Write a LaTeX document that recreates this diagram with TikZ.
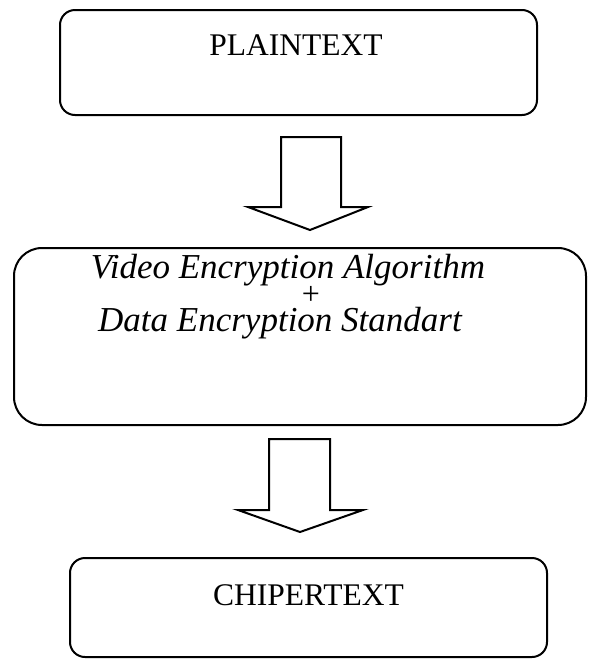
\documentclass[tikz,border=0pt]{standalone}
\usepackage{fontspec}
\setmainfont{Liberation Serif}
\begin{document}
\begin{tikzpicture}[x=1pt,y=-1pt,
  stagebox/.style={draw=black, line width=2pt, inner sep=0pt},
  label/.style={font=\fontsize{31.5}{37}\selectfont, inner sep=0pt, anchor=base},
  biglabel/.style={font=\fontsize{35}{37}\selectfont\itshape, inner sep=0pt, anchor=base},
  blockarrow/.style={draw=black, line width=2pt, fill=white, line join=miter}]
\useasboundingbox (0,0) rectangle (593,662);
% stage boxes
\node[stagebox, rounded corners=15pt, minimum width=477pt, minimum height=105pt] (plain) at (298.5,62.5) {};
\node[stagebox, rounded corners=28pt, minimum width=572pt, minimum height=177pt] (algo) at (300,336.5) {};
\node[stagebox, rounded corners=15pt, minimum width=477pt, minimum height=99pt] (cipher) at (308.5,607.5) {};
% texts
\node[label] (plaintxt) at (296,55) {PLAINTEXT};
\node[biglabel] (vea) at (288,278) {Video Encryption Algorithm};
\node[label, font=\fontsize{32}{32}\selectfont, text height=12pt, text depth=0pt] (plus) at (311,304) {+};
\node[biglabel, text height=22pt] (des) at (280,331) {Data Encryption Standart};
\node[label] (ciphertxt) at (308.5,605) {CHIPERTEXT};
% block arrows between the stages
\draw[blockarrow] (281,137) -- (341,137) -- (341,207) -- (368,207) -- (310,230) -- (248,207) -- (281,207) -- cycle;
\draw[blockarrow] (269,439) -- (330,439) -- (330,510) -- (363,510) -- (300,532) -- (238,510) -- (269,510) -- cycle;
\end{tikzpicture}
\end{document}
